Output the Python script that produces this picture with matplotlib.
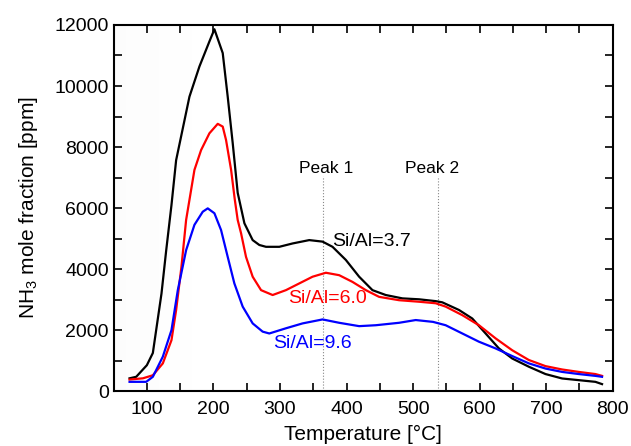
import matplotlib
matplotlib.use("Agg")
import matplotlib.pyplot as plt
import numpy as np
from matplotlib.ticker import MultipleLocator

plt.rcParams['font.family'] = ['Liberation Sans', 'DejaVu Sans']
plt.rcParams['mathtext.fontset'] = 'custom'
plt.rcParams['mathtext.rm'] = 'Liberation Sans'

# temperature [C] / NH3 mole fraction [ppm]
t_37 = [74, 84, 100, 109, 122, 129, 137, 144, 164, 179, 194, 201.5, 214, 221.5, 229, 236.5,
        246.6, 259, 269, 279, 299, 319, 344, 364, 379, 399, 419, 439, 459, 484, 509, 534,
        544, 569, 589, 609, 629, 649, 674, 699, 724, 749, 774, 784]
y_37 = [420, 470, 850, 1250, 3200, 4600, 6100, 7570, 9650, 10640, 11460, 11860, 11080, 9650, 8130, 6500,
        5500, 4950, 4790, 4730, 4730, 4840, 4950, 4900, 4730, 4300, 3750, 3310, 3150, 3040, 3010, 2950,
        2910, 2660, 2380, 1890, 1400, 1070, 800, 560, 415, 360, 305, 230]

t_60 = [74, 94, 109, 124, 137, 144, 152, 159, 171.5, 181.5, 194, 206.5, 214, 219, 226.6, 232,
        236.5, 241.6, 249, 259, 271.6, 289, 309, 329, 349, 369, 389, 409, 429, 449, 479, 509,
        534, 549, 574, 599, 624, 649, 674, 699, 724, 749, 774, 784]
y_60 = [380, 420, 520, 910, 1670, 2660, 4080, 5610, 7250, 7900, 8450, 8760, 8670, 8230, 7250, 6300,
        5610, 5170, 4400, 3750, 3310, 3150, 3310, 3530, 3750, 3880, 3800, 3580, 3310, 3090, 2980, 2930,
        2880, 2770, 2490, 2160, 1730, 1340, 1020, 820, 710, 630, 560, 500]

t_96 = [74, 99, 109, 124, 137, 146.5, 159, 171.5, 184, 191.5, 201.5, 211.5, 221.5, 231.5, 244, 259,
        274, 284, 309, 334, 364, 389, 419, 444, 479, 504, 530, 549, 574, 599, 624, 649,
        674, 699, 724, 749, 774, 784]
y_96 = [305, 305, 470, 1130, 2000, 3310, 4620, 5450, 5880, 5990, 5830, 5280, 4400, 3530, 2770, 2220,
        1950, 1890, 2060, 2220, 2350, 2240, 2130, 2160, 2240, 2330, 2270, 2160, 1890, 1620, 1400, 1150,
        910, 740, 630, 560, 500, 470]

peaks = [365, 537]
peak_labels = ['Peak 1', 'Peak 2']

fig = plt.figure(figsize=(6.31, 4.46), dpi=100)
ax = fig.add_axes([0.180, 0.123, 0.791, 0.821])

# faint grey shading at the low-temperature side
grad = np.linspace(1, 0, 100).reshape(1, -1)
ax.imshow(grad, extent=[50, 190, 0, 12000], aspect='auto', cmap='Greys',
          vmin=0, vmax=45, zorder=0, interpolation='bilinear')

for p in peaks:
    ax.plot([p, p], [0, 7050], color='#888888', ls=':', lw=0.8, zorder=1)

ax.plot(t_37, y_37, color='black', lw=1.6, zorder=3)
ax.plot(t_60, y_60, color='#ff0000', lw=1.6, zorder=3)
ax.plot(t_96, y_96, color='#0000ff', lw=1.6, zorder=3)

ax.text(369, 7300, peak_labels[0], ha='center', va='center', fontsize=12.5)
ax.text(528, 7300, peak_labels[1], ha='center', va='center', fontsize=12.5)
ax.text(378, 4900, 'Si/Al=3.7', color='black', ha='left', va='center', fontsize=14)
ax.text(313, 3020, 'Si/Al=6.0', color='#ff0000', ha='left', va='center', fontsize=14)
ax.text(289, 1560, 'Si/Al=9.6', color='#0000ff', ha='left', va='center', fontsize=14)

ax.set_xlim(50, 800)
ax.set_ylim(0, 12000)
ax.xaxis.set_major_locator(MultipleLocator(100))
ax.xaxis.set_minor_locator(MultipleLocator(50))
ax.yaxis.set_major_locator(MultipleLocator(2000))
ax.yaxis.set_minor_locator(MultipleLocator(1000))
ax.tick_params(which='both', direction='in', top=True, right=True, width=1.2, labelsize=14)
ax.tick_params(which='major', length=6)
ax.tick_params(which='minor', length=6)
ax.tick_params(axis='x', pad=7)
for s in ax.spines.values():
    s.set_linewidth(1.5)

ax.set_xlabel('Temperature [°C]', fontsize=15, labelpad=5)
ax.set_ylabel('NH$_3$ mole fraction [ppm]', fontsize=15, labelpad=10)

fig.savefig('out.png', dpi=100)
